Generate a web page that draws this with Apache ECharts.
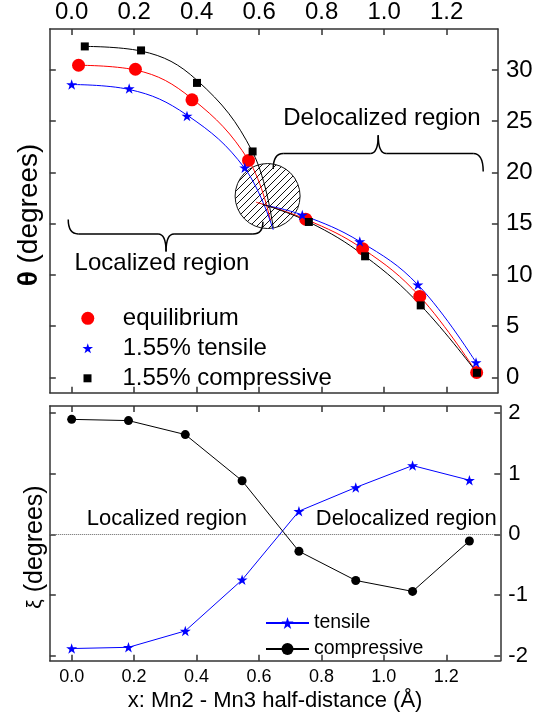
<!DOCTYPE html>
<html style="height: 100%">
<head>
    <meta charset="utf-8">
</head>
<body style="height: 100%; margin: 0; background-color: #fff;">
<div id="container" style="width: 549px; height: 715px"></div>
<script type="text/javascript" src="https://cdn.jsdelivr.net/npm/echarts@6/dist/echarts.min.js"></script>
<script type="text/javascript">
// ---- top panel: theta vs x (markers) ----
var xEquil = [0.022, 0.204, 0.385, 0.566, 0.749, 0.931, 1.114, 1.296];
var thetaEquil = [30.46, 30.07, 27.09, 21.18, 15.44, 12.56, 7.90, 0.48];
var xTens = [0, 0.184, 0.369, 0.554, 0.738, 0.922, 1.108, 1.294];
var thetaTens = [28.58, 28.20, 25.51, 20.47, 15.85, 13.27, 9.04, 1.46];
var xComp = [0.042, 0.222, 0.401, 0.579, 0.759, 0.939, 1.117, 1.297];
var thetaComp = [32.30, 31.91, 28.74, 22.05, 15.17, 11.82, 7.03, 0.45];

// fitted curves
var fitLeftEquil = [[0.022, 30.46], [0.204, 30.0], [0.385, 27.2], [0.566, 21.2], [0.636, 15.3]];
var fitLeftTens = [[0, 28.58], [0.184, 28.1], [0.369, 25.6], [0.554, 20.4], [0.645, 14.4]];
var fitLeftComp = [[0.042, 32.3], [0.222, 31.85], [0.401, 29.0], [0.579, 22.0], [0.645, 14.6]];
var fitRightEquil = [[0.59, 17.1], [0.749, 15.44], [0.931, 12.56], [1.114, 7.90], [1.296, 0.48]];
var fitRightTens = [[0.62, 16.8], [0.738, 15.85], [0.922, 13.27], [1.108, 9.04], [1.294, 1.46]];
var fitRightComp = [[0.61, 16.9], [0.759, 15.17], [0.939, 11.82], [1.117, 7.03], [1.297, 0.45]];
var crossPoint = [0.627, 17.7];

// ---- bottom panel: xi vs x ----
var xStrain = [0, 0.182, 0.364, 0.546, 0.728, 0.910, 1.092, 1.274];
var xiTens = [-1.88, -1.86, -1.59, -0.75, 0.38, 0.77, 1.13, 0.89];
var xiComp = [1.89, 1.87, 1.64, 0.88, -0.28, -0.76, -0.94, -0.11];

var xTicks = [0, 0.2, 0.4, 0.6, 0.8, 1.0, 1.2];
var thetaTicks = [0, 5, 10, 15, 20, 25, 30];
var xiTicks = [-2, -1, 0, 1, 2];

var FONT = '"Liberation Sans", Arial, sans-serif';
var FRAME = '#333';
var STAR = 'path://M50 0L61.2 34.5L97.6 34.5L68.2 55.9L79.4 90.5L50 69.1L20.6 90.5L31.8 55.9L2.4 34.5L38.8 34.5Z';
var SQUARE = 'path://M0 0H10V10H0Z';

function pairs(xs, ys) {
    return xs.map(function (x, i) { return [x, ys[i]]; });
}

// hatch pattern for the crossing circle
var hatch = document.createElement('canvas');
hatch.width = 7;
hatch.height = 7;
var hctx = hatch.getContext('2d');
hctx.strokeStyle = '#111';
hctx.lineWidth = 1;
[-7, 0, 7].forEach(function (k) {
    hctx.beginPath();
    hctx.moveTo(k, 7);
    hctx.lineTo(k + 7, 0);
    hctx.stroke();
});

function axis(extra, ticks, labelOpt) {
    var a = {
        type: 'value',
        axisLine: {show: true, onZero: false, lineStyle: {color: FRAME, width: 1.5}},
        axisTick: {show: true, inside: true, length: 6, customValues: ticks, lineStyle: {color: FRAME, width: 1.5}},
        splitLine: {show: false},
        axisLabel: labelOpt ? Object.assign({show: true, customValues: ticks, color: '#000', fontFamily: FONT}, labelOpt) : {show: false}
    };
    return Object.assign(a, extra);
}

var dom = document.getElementById('container');
var myChart = echarts.init(dom);

function fitLine(data, color) {
    return {
        type: 'line', data: data, xAxisIndex: 0, yAxisIndex: 1,
        smooth: 0.4, symbol: 'none', silent: true, z: 3,
        lineStyle: {color: color, width: 1}
    };
}
function markers(name, data, color, symbol, size) {
    return {
        name: name, type: 'scatter', data: data, xAxisIndex: 0, yAxisIndex: 1,
        symbol: symbol, symbolSize: size, symbolKeepAspect: true, z: 4,
        itemStyle: {color: color, opacity: 1}
    };
}
var legendText = {fontSize: 24, color: '#000', fontFamily: FONT};

var option = {
    animation: false,
    textStyle: {fontFamily: FONT},
    grid: [
        {left: 49.8, top: 26.8, width: 448.1, height: 366},
        {left: 49.8, top: 406, width: 450.5, height: 254.7}
    ],
    xAxis: [
        axis({gridIndex: 0, position: 'top', min: -0.07, max: 1.364}, xTicks,
            {fontSize: 24, margin: 5, formatter: function (v) { return v.toFixed(1); }}),
        axis({gridIndex: 0, position: 'bottom', min: -0.07, max: 1.364}, xTicks),
        axis({gridIndex: 1, position: 'bottom', min: -0.07, max: 1.373,
              name: 'x: Mn2 - Mn3 half-distance (Å)', nameLocation: 'middle', nameGap: 29,
              nameTextStyle: {fontSize: 22, color: '#000', fontFamily: FONT}}, xTicks,
            {fontSize: 18, margin: 7, formatter: function (v) { return v.toFixed(1); }}),
        axis({gridIndex: 1, position: 'top', min: -0.07, max: 1.373}, xTicks)
    ],
    yAxis: [
        axis({gridIndex: 0, position: 'left', min: -1.5, max: 34}, thetaTicks),
        axis({gridIndex: 0, position: 'right', min: -1.5, max: 34}, thetaTicks, {fontSize: 24, margin: 8}),
        axis({gridIndex: 1, position: 'left', min: -2.08, max: 2.11}, xiTicks),
        axis({gridIndex: 1, position: 'right', min: -2.08, max: 2.11}, xiTicks, {fontSize: 22, margin: 8})
    ],
    legend: [
        {data: ['equilibrium'], left: 76.3, top: 301.3, itemWidth: 60, itemHeight: 13, selectedMode: false, textStyle: legendText},
        {data: ['1.55% tensile'], left: 77.5, top: 331.3, itemWidth: 60, itemHeight: 10, selectedMode: false, textStyle: legendText},
        {data: ['1.55% compressive'], left: 78.5, top: 361.3, itemWidth: 60, itemHeight: 8, selectedMode: false, textStyle: legendText},
        {data: ['tensile', 'compressive'], orient: 'vertical', left: 260, top: 608, itemWidth: 43, itemHeight: 15,
         itemGap: 6, selectedMode: false, textStyle: {fontSize: 19.5, color: '#000', fontFamily: FONT}}
    ],
    series: [
        fitLine(fitLeftEquil, '#ff0000'),
        fitLine(fitLeftTens, '#0000ff'),
        fitLine(fitLeftComp, '#000000'),
        fitLine(fitRightEquil, '#ff0000'),
        fitLine(fitRightTens, '#0000ff'),
        fitLine(fitRightComp, '#000000'),
        markers('equilibrium', pairs(xEquil, thetaEquil), '#ff0000', 'circle', 13),
        markers('1.55% tensile', pairs(xTens, thetaTens), '#0000ff', STAR, 11),
        markers('1.55% compressive', pairs(xComp, thetaComp), '#000000', SQUARE, 8),
        {
            name: 'tensile', type: 'line', xAxisIndex: 2, yAxisIndex: 3,
            data: pairs(xStrain, xiTens), symbol: STAR, symbolSize: 11, symbolKeepAspect: true,
            lineStyle: {color: '#0000ff', width: 1}, itemStyle: {color: '#0000ff'}
        },
        {
            name: 'compressive', type: 'line', xAxisIndex: 2, yAxisIndex: 3,
            data: pairs(xStrain, xiComp), symbol: 'circle', symbolSize: 9,
            lineStyle: {color: '#000', width: 1}, itemStyle: {color: '#000'},
            markLine: {
                silent: true, symbol: 'none', label: {show: false},
                lineStyle: {color: '#666', width: 1, type: 'dotted'},
                data: [{yAxis: 0}]
            }
        }
    ]
};
myChart.setOption(option);

// ---- annotations (hatched circle, braces, region labels, axis titles) ----
function px(top, p) {
    return top ? myChart.convertToPixel({xAxisIndex: 0, yAxisIndex: 1}, p)
               : myChart.convertToPixel({xAxisIndex: 2, yAxisIndex: 3}, p);
}
function brace(a, b, barY, tip) {
    var A = px(true, a), B = px(true, b), T = px(true, tip);
    var yb = px(true, [0, barY])[1];
    var r = 10, rt = 8;
    var st = {stroke: '#000', lineWidth: 1.5, fill: null};
    return [
        {type: 'bezierCurve', shape: {x1: A[0], y1: A[1], cpx1: A[0], cpy1: yb, x2: A[0] + r, y2: yb}, style: st},
        {type: 'line', shape: {x1: A[0] + r, y1: yb, x2: T[0] - rt, y2: yb}, style: st},
        {type: 'bezierCurve', shape: {x1: T[0] - rt, y1: yb, cpx1: T[0], cpy1: yb, x2: T[0], y2: T[1]}, style: st},
        {type: 'bezierCurve', shape: {x1: T[0], y1: T[1], cpx1: T[0], cpy1: yb, x2: T[0] + rt, y2: yb}, style: st},
        {type: 'line', shape: {x1: T[0] + rt, y1: yb, x2: B[0] - r, y2: yb}, style: st},
        {type: 'bezierCurve', shape: {x1: B[0] - r, y1: yb, cpx1: B[0], cpy1: yb, x2: B[0], y2: B[1]}, style: st}
    ];
}
function label(top, p, text, size) {
    var P = px(top, p);
    return {type: 'text', x: P[0], y: P[1], silent: true,
            style: {text: text, fill: '#000', font: size + 'px ' + FONT, align: 'center', verticalAlign: 'middle'}};
}

var C = px(true, crossPoint);
var graphics = [
    {type: 'circle', z: 1, silent: true, shape: {cx: C[0], cy: C[1], r: 32.5},
     style: {fill: {image: hatch, repeat: 'repeat'}, stroke: '#111', lineWidth: 1}}
]
    .concat(brace([-0.011, 15.4], [0.612, 15.2], 14.0, [0.302, 12.3]))
    .concat(brace([0.645, 20.35], [1.317, 20.1], 21.86, [0.981, 23.64]))
    .concat([
        label(true, [0.289, 11.1], 'Localized region', 24),
        label(true, [0.993, 25.3], 'Delocalized region', 24),
        label(false, [0.305, 0.25], 'Localized region', 22),
        label(false, [1.072, 0.25], 'Delocalized region', 22),
        {type: 'text', x: 29, y: 215, rotation: Math.PI / 2, silent: true,
         style: {text: '{b|θ} (degrees)', fill: '#000', font: '28px ' + FONT, align: 'center', verticalAlign: 'middle',
                 rich: {b: {fontWeight: 'bold', fontSize: 28, fontFamily: FONT}}}},
        {type: 'text', x: 35, y: 547, rotation: Math.PI / 2, silent: true,
         style: {text: '{g|ξ} (degrees)', fill: '#000', font: '25px ' + FONT, align: 'center', verticalAlign: 'middle',
                 rich: {g: {fontSize: 21, fontFamily: FONT}}}}
    ]);
myChart.setOption({graphic: graphics});
</script>
</body>
</html>
